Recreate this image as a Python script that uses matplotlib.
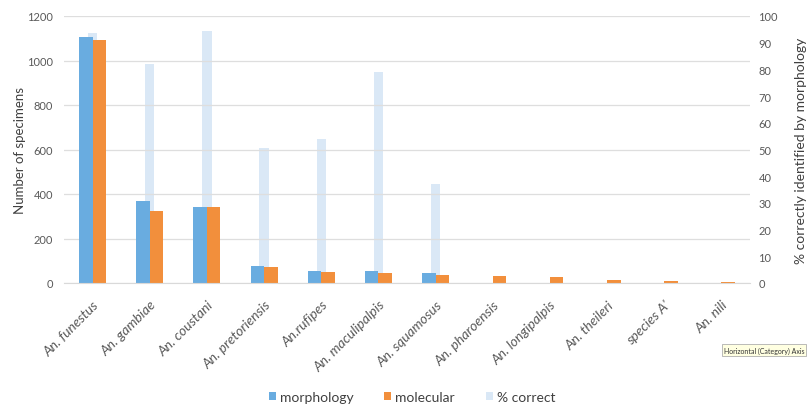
import numpy as np
import matplotlib.pyplot as plt

plt.rcParams['font.family'] = ['Lato', 'DejaVu Sans']

species = ["An. funestus", "An. gambiae", "An. coustani", "An. pretoriensis",
           "An.rufipes", "An. maculipalpis", "An. squamosus", "An. pharoensis",
           "An. longipalpis", "An. theileri", "species A'", "An. nili"]
morphology = [1107, 367, 340, 76, 52, 52, 46, 0, 0, 0, 0, 0]
molecular = [1090, 323, 340, 73, 51, 46, 36, 33, 27, 15, 9, 4]
pct_correct = [93.7, 81.9, 94.4, 50.7, 53.8, 78.9, 37.1, 0, 0, 0, 0, 0]

c_blue = '#69ace0'
c_orange = '#f28f3c'
c_pale = '#dae8f6'
c_text = '#595959'

fig = plt.figure(figsize=(8.08, 4.06), dpi=100)
ax = fig.add_axes([64/808, 1-284/406, 686/808, 267/406])
ax2 = ax.twinx()
ax.set_zorder(ax2.get_zorder() + 1)
ax.patch.set_visible(False)

x = np.arange(len(species))
w = 0.235
ax.bar(x - w/2, morphology, w, color=c_blue, label='morphology')
ax.bar(x + w/2, molecular, w, color=c_orange, label='molecular')
ax2.bar(x, pct_correct, 0.165, color=c_pale, label='% correct')

ax.set_xlim(-0.5, len(species) - 0.5)
ax.set_ylim(0, 1200)
ax.set_yticks(range(0, 1201, 200))
ax2.set_ylim(0, 100)
ax2.set_yticks(range(0, 101, 10))

ax.grid(axis='y', color='#dedede', linewidth=0.9)
ax.set_axisbelow(True)
for a in (ax, ax2):
    for s in a.spines.values():
        s.set_visible(False)
    a.tick_params(length=0, labelsize=8, labelcolor=c_text)
ax.spines['bottom'].set_visible(True)
ax.spines['bottom'].set_color('#d9d9d9')
ax.tick_params(axis='y', pad=8)
ax2.tick_params(axis='y', pad=6)

ax.set_xticks(x)
ax.set_xticklabels(species, rotation=45, ha='right', rotation_mode='anchor',
                   fontsize=10, color=c_text, style='italic')
ax.tick_params(axis='x', pad=11)

# axis titles placed by hand
fig.text(20/808, 1 - 151/406, "Number of specimens", rotation=90,
         ha='center', va='center', fontsize=9.5, color='#404040')
fig.text(795/808, 1 - 151/406,
         "% correctly identified by morphology", rotation=90,
         ha='left', va='center', fontsize=10, color='#404040')

h1, l1 = ax.get_legend_handles_labels()
h2, l2 = ax2.get_legend_handles_labels()
fig.legend(h1 + h2, l1 + l2, loc='center', bbox_to_anchor=(0.51, 1 - 398/406),
           ncol=3, frameon=False, fontsize=10, handlelength=0.5, handleheight=0.5,
           handletextpad=0.3, columnspacing=2.2, labelcolor='#404040',
           borderpad=0, borderaxespad=0)

fig.text(764/808, 1 - 351/406, "Horizontal (Category) Axis", fontsize=5,
         ha='center', va='center', color='#333333',
         bbox=dict(boxstyle='square,pad=0.3', facecolor='#ffffe1',
                   edgecolor='#a0a0a0', linewidth=0.5))

fig.savefig('out.png', dpi=100)
